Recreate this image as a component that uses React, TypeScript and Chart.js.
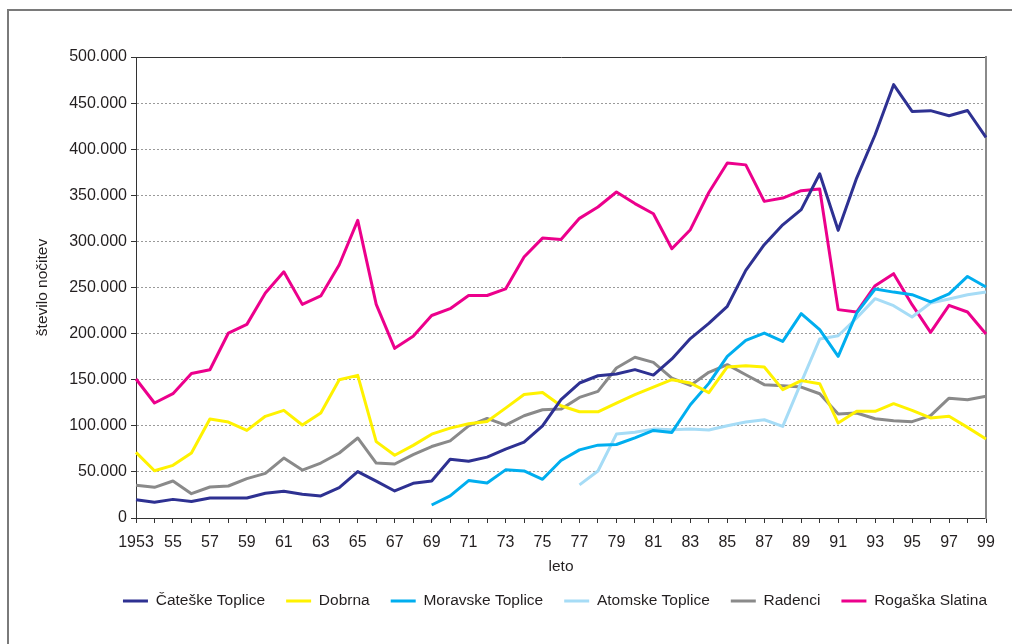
import React, { useEffect, useRef } from 'react';
import { Chart, registerables } from 'chart.js';

Chart.register(...registerables);

const years = [
  '1953', '1954', '1955', '1956', '1957', '1958', '1959', '1960', '1961', '1962',
  '1963', '1964', '1965', '1966', '1967', '1968', '1969', '1970', '1971', '1972',
  '1973', '1974', '1975', '1976', '1977', '1978', '1979', '1980', '1981', '1982',
  '1983', '1984', '1985', '1986', '1987', '1988', '1989', '1990', '1991', '1992',
  '1993', '1994', '1995', '1996', '1997', '1998', '1999',
];

const xTickLabels = [
  '1953', '', '55', '', '57', '', '59', '', '61', '', '63', '', '65', '', '67', '', '69', '', '71', '',
  '73', '', '75', '', '77', '', '79', '', '81', '', '83', '', '85', '', '87', '', '89', '', '91', '',
  '93', '', '95', '', '97', '', '99',
];

const yTicks = [0, 50000, 100000, 150000, 200000, 250000, 300000, 350000, 400000, 450000, 500000];

// values in thousands of overnight stays
const catezVals = [
  19.9, 17, 20.2, 18, 21.7, 21.7, 21.7, 26.8, 28.9, 25.7,
  23.9, 32.9, 50.3, 40, 29.3, 37.6, 40.2, 63.8, 61.6, 66,
  74.6, 82.2, 100, 128.3, 146.4, 154.3, 156.2, 160.9, 155, 172.5,
  194.6, 211, 229.6, 268.6, 296.4, 318, 334.4, 373.4, 312, 368.7,
  415.7, 470, 441, 441.8, 436.3, 442, 412.8,
];

const dobrnaVals = [
  71.2, 51.3, 57.1, 70.5, 107.4, 104.1, 95, 110.3, 116.8, 100.9,
  113.9, 150, 154.7, 82.8, 68, 78.8, 90.9, 97.5, 102.2, 104.7,
  119.2, 134, 136.2, 121.7, 115.2, 115.2, 124.6, 133.7, 142, 150,
  146.4, 136, 163.8, 165.2, 163.8, 139.2, 149, 145.7, 103, 115.7,
  115.7, 124, 116.8, 108.5, 110.3, 98.3, 85.7,
];

const moravskeVals = [
  null, null, null, null, null, null, null, null, null, null,
  null, null, null, null, null, null, 14.1, 23.9, 40.6, 38,
  52.2, 51.1, 42, 62.3, 73.9, 79, 79.7, 87, 95, 92.8,
  122.8, 146, 175.3, 192.7, 200.6, 191.6, 221.6, 204.2, 175.3, 222.3,
  248.4, 245, 242.2, 234.3, 243, 262, 250.5,
];

const atomskeVals = [
  null, null, null, null, null, null, null, null, null, null,
  null, null, null, null, null, null, null, null, null, null,
  null, null, null, null, 35.9, 51, 91, 93.1, 96.4, 95.6,
  96.4, 95.5, 100.1, 104.1, 106.6, 99.4, 147.1, 194.1, 197.7, 216.9,
  237.9, 230.3, 218, 233.2, 237.5, 242.2, 245.1,
];

const radenciVals = [
  35.4, 33.3, 40.1, 26.4, 33.6, 34.7, 42.7, 48.4, 65, 52,
  59.6, 70.5, 86.8, 59.6, 58.6, 68.7, 77.5, 83.7, 100, 108,
  100.7, 110.9, 117.4, 118.1, 130.8, 137.3, 162.7, 174.3, 168.8, 151.8,
  143.8, 158, 166.3, 155.4, 144.6, 143.5, 142, 134.8, 112.8, 113.9,
  107.7, 105.6, 104.5, 111, 130, 128.3, 132,
];

const rogaskaVals = [
  150.8, 124.7, 134.8, 156.8, 160.8, 200.6, 210, 244, 267, 231.7,
  240.8, 274.7, 322.8, 231.7, 184, 197, 219.6, 227, 241.3, 241.3,
  248.5, 283, 303.6, 302, 325, 337.3, 353.6, 341, 330, 292,
  312.7, 353, 385, 383, 343.4, 347, 355, 356.8, 226, 223.4,
  252, 265, 231.4, 201.4, 230.6, 223.4, 199.5,
];

const seriesNames = ['Čateške Toplice', 'Dobrna', 'Moravske Toplice', 'Atomske Toplice', 'Radenci', 'Rogaška Slatina'];
const seriesValues = [catezVals, dobrnaVals, moravskeVals, atomskeVals, radenciVals, rogaskaVals];
const seriesColors = ['#2e3192', '#fff200', '#00aeef', '#a6dcf6', '#8a8a8a', '#ec008c'];

const FONT = '"Liberation Sans", Arial, Helvetica, sans-serif';
const TEXT = '#231f20';

const fmtY = (v: number) => (v === 0 ? '0' : `${Math.round(v / 1000)}.000`);

const legendShift = {
  id: 'legendShift',
  afterLayout(chart: any) {
    const lg = chart.legend;
    if (!lg) return;
    const d = 555 - (lg.left + lg.right) / 2;
    lg.left += d;
    lg.right += d;
  },
};

export default function App() {
  const ref = useRef<HTMLCanvasElement | null>(null);

  useEffect(() => {
    if (!ref.current) return;
    const datasets = seriesNames.map((name, i) => ({
      label: name,
      data: seriesValues[i].map((v) => (v === null ? null : (v as number) * 1000)),
      borderColor: seriesColors[i],
      backgroundColor: seriesColors[i],
      borderWidth: 3,
      pointRadius: 0,
      pointHoverRadius: 0,
      tension: 0,
      borderJoinStyle: 'round' as const,
      fill: false,
      spanGaps: false,
    }));

    const chart = new Chart(ref.current, {
      type: 'line',
      data: { labels: years, datasets },
      plugins: [legendShift],
      options: {
        animation: false,
        responsive: false,
        devicePixelRatio: 1,
        layout: { padding: { left: 0, top: 57, right: 26, bottom: 25.25 } },
        plugins: {
          tooltip: { enabled: false },
          title: { display: false },
          legend: {
            display: true,
            position: 'bottom',
            fullSize: true,
            labels: {
              boxWidth: 25,
              boxHeight: 3,
              padding: 21,
              color: TEXT,
              font: { family: FONT, size: 15.5 },
              generateLabels: (c: any) =>
                c.data.datasets.map((ds: any, i: number) => ({
                  text: ds.label,
                  fillStyle: ds.borderColor,
                  strokeStyle: ds.borderColor,
                  lineWidth: 0,
                  hidden: false,
                  datasetIndex: i,
                  fontColor: TEXT,
                })),
            },
          },
        },
        scales: {
          x: {
            type: 'category',
            position: 'bottom',
            offset: false,
            ticks: {
              autoSkip: false,
              maxRotation: 0,
              minRotation: 0,
              padding: 10,
              color: TEXT,
              font: { family: FONT, size: 16 },
              callback: (_v: any, i: number) => xTickLabels[i],
            },
            grid: { drawOnChartArea: false, drawTicks: true, tickLength: 5, tickColor: '#333', tickWidth: 1 },
            border: { display: true, color: '#333', width: 1 },
            title: {
              display: true,
              text: 'leto',
              color: TEXT,
              font: { family: FONT, size: 15.5 },
              padding: { top: 0, bottom: -4 },
            },
            afterFit: (s: any) => {
              s.height = 54.25;
            },
          },
          xTop: {
            type: 'category',
            position: 'top',
            display: true,
            ticks: { display: false },
            grid: { display: false, drawTicks: false },
            border: { display: true, color: '#333', width: 1 },
            afterFit: (s: any) => {
              s.height = 0;
            },
          },
          y: {
            type: 'linear',
            position: 'left',
            min: 0,
            max: 500000,
            afterBuildTicks: (s: any) => {
              s.ticks = yTicks.map((v) => ({ value: v }));
            },
            ticks: {
              padding: 4,
              color: TEXT,
              font: { family: FONT, size: 16 },
              callback: (v: any) => fmtY(Number(v)),
            },
            grid: {
              color: (ctx: any) =>
                ctx.tick && (ctx.tick.value === 0 || ctx.tick.value === 500000) ? 'rgba(0,0,0,0)' : '#9a9a9a',
              tickColor: '#333',
              tickLength: 5,
              lineWidth: 1,
            },
            border: { display: true, color: '#333', width: 1, dash: [2, 2] },
            title: {
              display: true,
              text: 'število nočitev',
              color: TEXT,
              font: { family: FONT, size: 15.5 },
              padding: { top: 33.7, bottom: 0 },
            },
            afterFit: (s: any) => {
              s.width = 136;
            },
          },
          yR: {
            type: 'linear',
            position: 'right',
            min: 0,
            max: 500000,
            display: true,
            ticks: { display: false },
            grid: { display: false, drawTicks: false },
            border: { display: true, color: '#8a8a8a', width: 2 },
            afterFit: (s: any) => {
              s.width = 0;
            },
          },
        },
      } as any,
    });
    return () => chart.destroy();
  }, []);

  return (
    <div style={{ position: 'fixed', left: 0, top: 0, width: 1012, height: 644, background: '#fff', overflow: 'hidden' }}>
      <div
        style={{
          position: 'absolute',
          left: 7,
          top: 9,
          width: 1100,
          height: 700,
          borderLeft: '2px solid #7a7a7a',
          borderTop: '2px solid #7a7a7a',
        }}
      />
      <canvas ref={ref} width={1012} height={644} style={{ position: 'absolute', left: 0, top: 0 }} />
    </div>
  );
}
